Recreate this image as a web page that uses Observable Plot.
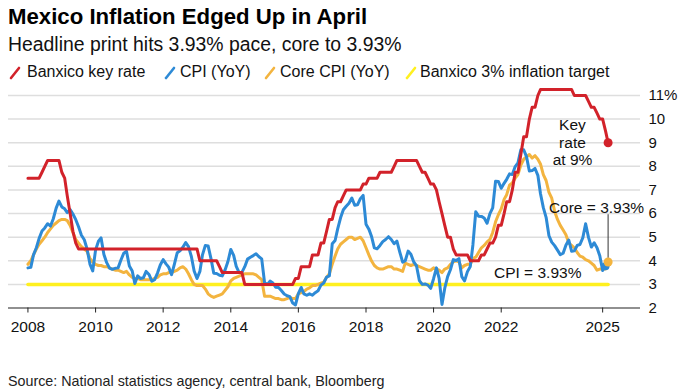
<!DOCTYPE html>
<html><head><meta charset="utf-8">
<script src="https://cdn.jsdelivr.net/npm/d3@7"></script>
<script src="https://cdn.jsdelivr.net/npm/@observablehq/plot@0.6"></script>
<style>
body{margin:0;background:#fff;font-family:"Liberation Sans",Arial,sans-serif;}
#wrap{position:relative;width:679px;height:390px;overflow:hidden;background:#fff}
.t{position:absolute;white-space:nowrap;color:#000}
#title{left:8px;top:3px;font-size:22.2px;font-weight:bold;line-height:28px}
#sub{left:8px;top:32px;font-size:19.4px;line-height:24px;color:#111}
.lg{position:absolute;top:61px;font-size:16px;line-height:22px;white-space:nowrap;color:#111}
.lg svg{position:absolute;left:0;top:4px}
.lg span{position:absolute;top:0}
#chart{position:absolute;left:0;top:85px}
#source{left:8px;top:372px;font-size:14.3px;line-height:18px;color:#222}
</style></head>
<body>
<div id="wrap">
  <div class="t" id="title">Mexico Inflation Edged Up in April</div>
  <div class="t" id="sub">Headline print hits 3.93% pace, core to 3.93%</div>
  <div id="legend"></div>
  <div id="chart"></div>
  <div class="t" id="source">Source: National statistics agency, central bank, Bloomberg</div>
</div>
<script>
// Monthly series, first value = January 2008
const seriesStart = "2008-01-01";

const keyRate = [
  7.5,7.5,7.5,7.5,7.5,7.75,8,8.25,8.25,8.25,8.25,8.25,
  7.75,7.5,6.75,6,5.25,4.75,4.5,4.5,4.5,4.5,4.5,4.5,
  4.5,4.5,4.5,4.5,4.5,4.5,4.5,4.5,4.5,4.5,4.5,4.5,
  4.5,4.5,4.5,4.5,4.5,4.5,4.5,4.5,4.5,4.5,4.5,4.5,
  4.5,4.5,4.5,4.5,4.5,4.5,4.5,4.5,4.5,4.5,4.5,4.5,
  4.5,4,4,4,4,4,4,4,3.75,3.5,3.5,3.5,
  3.5,3.5,3.5,3.5,3.5,3,3,3,3,3,3,3,
  3,3,3,3,3,3,3,3,3,3,3,3.25,
  3.25,3.75,3.75,3.75,3.75,4.25,4.25,4.25,4.75,4.75,5.25,5.75,
  5.75,6.25,6.5,6.5,6.75,7,7,7,7,7,7,7.25,
  7.25,7.5,7.5,7.5,7.5,7.75,7.75,7.75,7.75,7.75,8,8.25,
  8.25,8.25,8.25,8.25,8.25,8.25,8.25,8,7.75,7.75,7.5,7.25,
  7.25,7,6.5,6,5.5,5,5,4.5,4.25,4.25,4.25,4.25,
  4.25,4,4,4,4,4.25,4.25,4.5,4.75,4.75,5,5.5,
  5.5,6,6.5,6.5,7,7.75,7.75,8.5,9.25,9.25,10,10.5,
  10.5,11,11.25,11.25,11.25,11.25,11.25,11.25,11.25,11.25,11.25,11.25,
  11.25,11.25,11,11,11,11,11,10.75,10.5,10.5,10.25,10,
  10,9.5,9
];

const cpi = [
  3.70,3.72,4.25,4.55,4.95,5.26,5.39,5.57,5.47,5.78,6.23,6.53,
  6.28,6.20,6.04,6.17,5.98,5.74,5.44,5.08,4.89,4.50,3.86,3.57,
  4.46,4.83,4.97,4.27,3.92,3.69,3.64,3.68,3.70,4.02,4.32,4.40,
  3.78,3.57,3.04,3.36,3.25,3.28,3.55,3.42,3.14,3.20,3.48,3.82,
  4.05,3.87,3.73,3.41,3.85,4.34,4.42,4.57,4.77,4.60,4.18,3.57,
  3.25,3.55,4.25,4.65,4.63,4.09,3.47,3.46,3.39,3.36,3.62,3.97,
  4.48,4.23,3.76,3.50,3.51,3.75,4.07,4.15,4.22,4.30,4.17,4.08,
  3.07,3.00,3.14,3.06,2.88,2.87,2.74,2.59,2.52,2.48,2.21,2.13,
  2.61,2.87,2.60,2.54,2.60,2.54,2.65,2.73,2.97,3.06,3.31,3.36,
  4.72,4.86,5.35,5.82,6.16,6.31,6.44,6.66,6.35,6.37,6.63,6.77,
  5.55,5.34,5.04,4.55,4.51,4.65,4.81,4.90,5.02,4.90,4.72,4.83,
  4.37,3.94,4.00,4.41,4.28,3.95,3.78,3.16,3.00,3.02,2.97,2.83,
  3.24,3.70,3.25,2.15,2.84,3.33,3.62,4.05,4.01,4.09,3.33,3.15,
  3.54,3.76,4.67,6.08,5.89,5.88,5.81,5.59,6.00,6.24,7.37,7.36,
  7.07,7.28,7.45,7.68,7.65,7.99,8.15,8.70,8.70,8.41,7.80,7.82,
  7.91,7.62,6.85,6.25,5.84,5.06,4.79,4.64,4.45,4.26,4.32,4.66,
  4.88,4.40,4.42,4.65,4.69,4.98,5.57,4.99,4.58,4.76,4.55,4.21,
  3.59,3.77
];

const coreCpi = [
  3.85,4.0,4.25,4.5,4.7,4.85,5.0,5.2,5.35,5.5,5.6,5.7,
  5.75,5.75,5.7,5.5,5.2,4.9,4.75,4.6,4.5,4.4,4.1,3.95,
  3.85,3.8,3.8,3.75,3.75,3.7,3.65,3.6,3.6,3.55,3.5,3.55,
  3.4,3.3,3.25,3.25,3.2,3.2,3.2,3.2,3.2,3.25,3.3,3.4,
  3.45,3.45,3.5,3.5,3.55,3.6,3.7,3.75,3.65,3.45,3.2,3.0,
  2.95,2.95,2.95,2.8,2.6,2.5,2.45,2.5,2.55,2.6,2.75,2.9,
  3.15,3.25,3.3,3.35,3.4,3.45,3.45,3.45,3.45,3.4,3.3,3.2,
  2.5,2.5,2.5,2.45,2.4,2.4,2.35,2.35,2.4,2.45,2.4,2.4,
  2.6,2.65,2.7,2.8,2.85,2.95,2.95,3.0,3.05,3.1,3.3,3.45,
  3.85,4.2,4.5,4.7,4.8,4.9,5.0,5.0,4.9,4.95,5.0,4.85,
  4.55,4.25,4.0,3.8,3.7,3.65,3.65,3.7,3.75,3.75,3.65,3.65,
  3.6,3.55,3.9,3.85,3.8,3.85,3.8,3.75,3.7,3.65,3.6,3.6,
  3.7,3.65,3.6,3.5,3.65,3.7,3.85,3.95,4.0,3.95,3.7,3.8,
  3.85,3.85,4.1,4.15,4.35,4.55,4.65,4.8,4.9,5.2,5.65,5.95,
  6.2,6.6,6.8,7.2,7.3,7.5,7.65,8.05,8.3,8.4,8.5,8.35,
  8.45,8.3,8.1,7.65,7.4,6.9,6.65,6.1,5.75,5.5,5.3,5.1,
  4.75,4.65,4.55,4.35,4.2,4.15,4.05,4.0,3.9,3.8,3.6,3.65,
  3.65,3.65,3.95
];

const targetDates = ["2008-01-01", "2025-03-01"];
const targetValues = [3, 3];

const yTicks = [2,3,4,5,6,7,8,9,10,11];
const xTickYears = [2008,2010,2012,2014,2016,2018,2020,2022,2025];

const seriesNames = ["Banxico key rate", "CPI (YoY)", "Core CPI (YoY)", "Banxico 3% inflation target"];
const seriesColors = ["#d2222a", "#2d8ad6", "#f3b43f", "#fff01f"];

const start = new Date(seriesStart + "T00:00:00Z");
const rows = vals => vals.map((v, i) => ({date: d3.utcMonth.offset(start, i), value: v}));
const rateRows = rows(keyRate), cpiRows = rows(cpi), coreRows = rows(coreCpi);
const targetRows = targetDates.map((d, i) => ({date: new Date(d + "T00:00:00Z"), value: targetValues[i]}));
const xTicks = xTickYears.map(y => new Date(Date.UTC(y, 0, 1)));
const last = a => [a[a.length - 1]];
const D = s => new Date(s + "T00:00:00Z");

// legend
const legendX = [[8, 27], [163, 180], [263, 280], [404, 420]];
const lg = document.getElementById("legend");
seriesNames.forEach((n, i) => {
  const d = document.createElement("div");
  d.className = "lg";
  d.style.left = legendX[i][0] + "px";
  d.innerHTML = `<svg width="14" height="15"><line x1="3" y1="13" x2="11" y2="3" stroke="${seriesColors[i]}" stroke-width="2.6" stroke-linecap="round"/></svg><span style="left:${legendX[i][1] - legendX[i][0]}px">${n}</span>`;
  lg.appendChild(d);
});

const chart = Plot.plot({
  width: 679,
  height: 250,
  marginLeft: 8,
  marginRight: 39,
  marginTop: 10,
  marginBottom: 27.5,
  x: {type: "utc", domain: [D("2007-06-05"), D("2026-02-14")], label: null},
  y: {domain: [2, 11], label: null},
  style: {fontFamily: "'Liberation Sans', Arial, sans-serif", background: "#fff", color: "#111", overflow: "visible"},
  marks: [
    Plot.gridY(yTicks.slice(1), {stroke: "#dedede", strokeOpacity: 1, strokeWidth: 1.5}),
    Plot.axisY(yTicks, {anchor: "right", tickSize: 0, tickPadding: 8, fontSize: 15, fill: "#111", label: null,
      tickFormat: d => d === 11 ? "11%" : String(d)}),
    Plot.axisX(xTicks, {tickSize: 5, tickPadding: 8, fontSize: 15.5, fill: "#111", stroke: "#222", label: null,
      tickFormat: d3.utcFormat("%Y")}),
    Plot.ruleY([2], {stroke: "#222", strokeWidth: 1.2}),
    Plot.line(targetRows, {x: "date", y: "value", stroke: seriesColors[3], strokeWidth: 3.5}),
    Plot.line(coreRows, {x: "date", y: "value", stroke: seriesColors[2], strokeWidth: 3, strokeLinejoin: "round"}),
    Plot.line(cpiRows, {x: "date", y: "value", stroke: seriesColors[1], strokeWidth: 3, strokeLinejoin: "round"}),
    Plot.line(rateRows, {x: "date", y: "value", stroke: seriesColors[0], strokeWidth: 3, strokeLinejoin: "round"}),
    Plot.ruleX(last(coreRows), {x: "date", y1: 5.95, y2: 4.1, stroke: "#333", strokeWidth: 1}),
    Plot.dot(last(cpiRows), {x: "date", y: "value", r: 4, fill: seriesColors[1]}),
    Plot.dot(last(coreRows), {x: "date", y: "value", r: 4.5, fill: seriesColors[2]}),
    Plot.dot(last(rateRows), {x: "date", y: "value", r: 4.5, fill: seriesColors[0]}),
    Plot.text(["Key\nrate\nat 9%"], {x: D("2024-02-10"), y: 9.03, text: d => d, fontSize: 15.5, lineHeight: 1.12, fill: "#111"}),
    Plot.text(["Core = 3.93%"], {x: D("2025-03-01"), y: 6.24, text: d => d, fontSize: 15.5, fill: "#111", textAnchor: "end", dx: 36}),
    Plot.text(["CPI = 3.93%"], {x: D("2023-01-30"), y: 3.48, text: d => d, fontSize: 15.5, fill: "#111"})
  ]
});
document.getElementById("chart").appendChild(chart);
</script>
</body></html>
